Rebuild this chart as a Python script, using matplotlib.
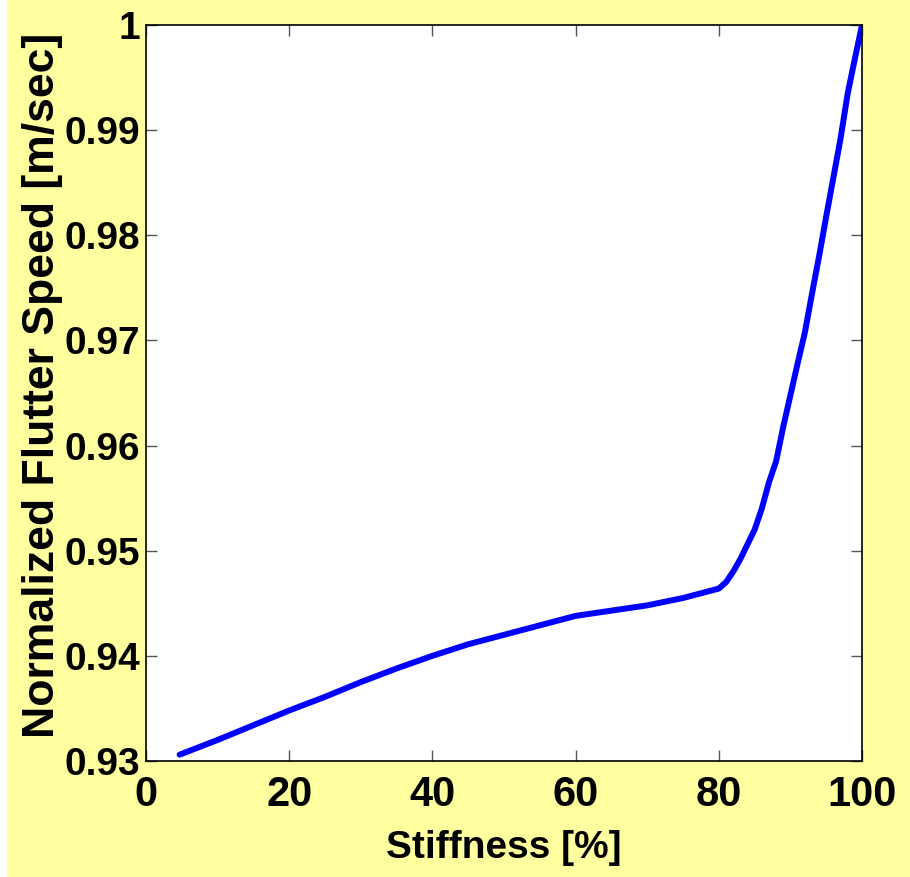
import matplotlib
matplotlib.use("Agg")
import matplotlib.pyplot as plt
from matplotlib.patches import Rectangle

# stiffness [%] vs normalized flutter speed
stiffness = [4.7, 10, 15, 20, 25, 30, 35, 40, 45, 50, 55, 60, 65, 70, 75,
             80, 81, 82, 83, 84, 85, 86, 87, 88, 89, 90, 91, 92, 93, 94,
             95, 96, 97, 98, 99, 100]
flutter_speed = [0.9306, 0.9320, 0.9334, 0.9348, 0.9361, 0.9375, 0.9388, 0.9400,
                 0.9411, 0.9420, 0.9429, 0.9438, 0.9443, 0.9448, 0.9455,
                 0.9464, 0.9470, 0.9480, 0.9492, 0.9506, 0.9520, 0.9540, 0.9565,
                 0.9585, 0.9618, 0.9648, 0.9678, 0.9707, 0.9744, 0.9780,
                 0.9818, 0.9855, 0.9892, 0.9935, 0.9968, 1.0]
xticks = [0, 20, 40, 60, 80, 100]
yticks = [0.93, 0.94, 0.95, 0.96, 0.97, 0.98, 0.99, 1.0]
ytick_labels = ["0.93", "0.94", "0.95", "0.96", "0.97", "0.98", "0.99", "1"]

plt.rcParams["font.family"] = ["Liberation Sans", "DejaVu Sans"]
plt.rcParams["font.weight"] = "bold"

fig = plt.figure(figsize=(9.1, 8.77), dpi=100, facecolor="#FFFFA0")
# thin white strip on the left edge, as in the original export
fig.add_artist(Rectangle((0, 0), 7 / 910, 1, transform=fig.transFigure,
                         facecolor="white", edgecolor="none", zorder=-1))
ax = fig.add_axes([0.1604, 0.1323, 0.7869, 0.8392])
ax.set_facecolor("white")

ax.plot(stiffness, flutter_speed, color="#0000FF", linewidth=4.3, solid_capstyle="round")

ax.set_xlim(0, 100)
ax.set_ylim(0.93, 1.0)
ax.set_xticks(xticks)
ax.set_yticks(yticks)
ax.set_yticklabels(ytick_labels)
ax.tick_params(direction="in", length=8, width=1, color="#555555",
               top=True, right=True, labelsize=28)
ax.tick_params(axis="x", labelsize=30, pad=10)
ax.tick_params(axis="y", pad=4)
for s in ax.spines.values():
    s.set_linewidth(1.2)

ax.set_xlabel("Stiffness [%]", fontsize=28, fontweight="bold", va="center")
ax.xaxis.set_label_coords(0.5, -0.118)
ax.set_ylabel("Normalized Flutter Speed [m/sec]", fontsize=32, fontweight="bold", va="center")
ax.yaxis.set_label_coords(-0.145, 0.51)

fig.savefig("out.png", dpi=100, facecolor=fig.get_facecolor())
